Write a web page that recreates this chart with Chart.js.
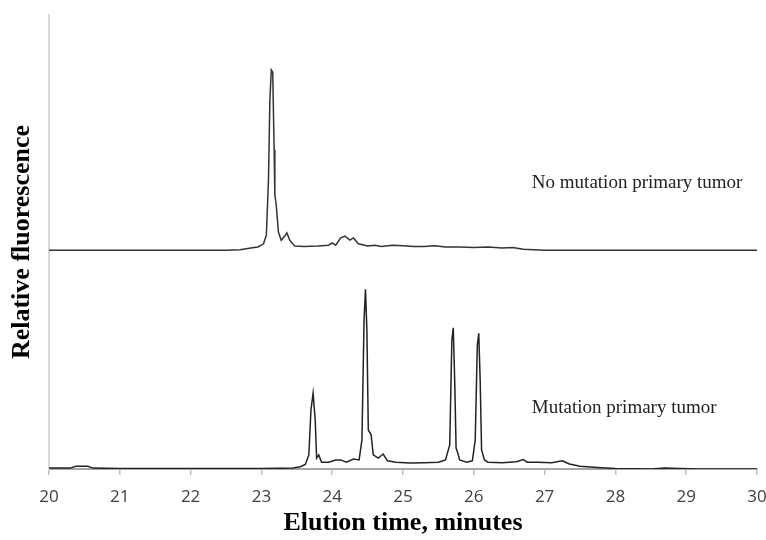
<!DOCTYPE html>
<html>
<head>
<meta charset="utf-8">
<script src="https://cdn.jsdelivr.net/npm/chart.js@4.4.0/dist/chart.umd.min.js"></script>
<style>
  html, body { margin: 0; padding: 0; background: #fff; }
  #wrap { width: 766px; height: 540px; }
</style>
</head>
<body>
<div id="wrap"><canvas id="chromChart"></canvas></div>
<script>
// series names (drawn as in-plot labels)
var seriesNames = ['No mutation primary tumor', 'Mutation primary tumor'];

// x tick values, minutes
var tickMinutes = [20, 21, 22, 23, 24, 25, 26, 27, 28, 29, 30];

// top trace: no mutation (time in minutes / relative fluorescence, offset trace)
var noMutTime = [20.0, 21.0, 22.0, 22.5, 22.7, 22.85, 22.95, 23.03, 23.07, 23.1, 23.12, 23.14, 23.16,
  23.18, 23.19, 23.21, 23.24, 23.28, 23.33, 23.36, 23.4, 23.47, 23.6, 23.8, 23.95, 24.0, 24.05,
  24.12, 24.18, 24.25, 24.3, 24.37, 24.5, 24.6, 24.7, 24.85, 25.0, 25.15, 25.3, 25.45, 25.6,
  25.8, 26.0, 26.2, 26.4, 26.55, 26.7, 27.0, 28.0, 29.0, 30.0];
var noMutSignal = [48.2, 48.2, 48.2, 48.2, 48.3, 48.7, 48.9, 49.6, 51.5, 63.7, 81.3, 87.9, 87.4,
  70.3, 60.4, 58.1, 52.2, 50.4, 51.3, 52.0, 50.4, 49.1, 49.0, 49.1, 49.3, 49.8, 49.3,
  50.9, 51.3, 50.4, 50.9, 49.6, 49.1, 49.3, 49.0, 49.3, 49.2, 49.0, 49.0, 49.2, 48.9,
  48.9, 48.8, 48.9, 48.7, 48.8, 48.4, 48.2, 48.2, 48.2, 48.2];

// bottom trace: mutation
var mutTime = [20.0, 20.3, 20.38, 20.55, 20.62, 21.0, 23.0, 23.45, 23.55, 23.62, 23.67, 23.7, 23.73,
  23.76, 23.78, 23.81, 23.85, 23.95, 24.05, 24.12, 24.2, 24.3, 24.38, 24.42, 24.45, 24.47, 24.49,
  24.51, 24.55, 24.58, 24.65, 24.72, 24.78, 24.9, 25.1, 25.3, 25.5, 25.6, 25.66, 25.69, 25.71,
  25.73, 25.75, 25.77, 25.8, 25.9, 25.98, 26.02, 26.05, 26.07, 26.09, 26.11, 26.15, 26.2, 26.4,
  26.6, 26.7, 26.75, 26.9, 27.1, 27.25, 27.35, 27.5, 27.8, 28.0, 28.5, 28.7, 28.9, 29.2, 30.0];
var mutSignal = [0.2, 0.2, 0.6, 0.6, 0.2, 0.1, 0.1, 0.2, 0.5, 1.0, 3.1, 13.0, 16.7,
  10.8, 2.4, 3.1, 1.5, 1.5, 2.0, 2.0, 1.5, 2.2, 2.0, 6.4, 32.8, 39.6, 30.6,
  8.6, 7.5, 3.1, 2.4, 3.3, 1.8, 1.5, 1.3, 1.4, 1.5, 2.0, 5.3, 28.4, 31.1,
  19.6, 4.6, 3.7, 2.0, 1.5, 1.8, 6.4, 27.3, 29.9, 19.6, 4.2, 2.0, 1.5, 1.4,
  1.6, 2.1, 1.5, 1.5, 1.4, 1.8, 1.1, 0.6, 0.3, 0.1, 0.0, 0.2, 0.1, 0.0, 0.0];

function toPoints(xs, ys) {
  return xs.map(function (x, i) { return { x: x, y: ys[i] }; });
}

// draws each series name inside the plot, at a place given in data units
var seriesLabels = {
  id: 'seriesLabels',
  afterDatasetsDraw: function (chart, args, opts) {
    var ctx = chart.ctx;
    var xs = chart.scales.x, ys = chart.scales.y;
    ctx.save();
    ctx.font = '19px "Liberation Serif", "Times New Roman", serif';
    ctx.fillStyle = '#222';
    ctx.textBaseline = 'alphabetic';
    opts.spots.forEach(function (s, i) {
      ctx.fillText(chart.data.datasets[i].label, xs.getPixelForValue(s.x), ys.getPixelForValue(s.y));
    });
    ctx.restore();
  }
};

var ctx = document.getElementById('chromChart').getContext('2d');
var chart = new Chart(ctx, {
  type: 'line',
  data: {
    datasets: [{
      label: seriesNames[0],
      data: toPoints(noMutTime, noMutSignal),
      borderColor: '#333',
      borderWidth: 1.5,
      pointRadius: 0,
      tension: 0
    }, {
      label: seriesNames[1],
      data: toPoints(mutTime, mutSignal),
      borderColor: '#222',
      borderWidth: 1.5,
      pointRadius: 0,
      tension: 0
    }]
  },
  options: {
    responsive: true,
    maintainAspectRatio: false,
    animation: false,
    layout: { padding: { top: 15, right: 9, left: 0, bottom: 0 } },
    plugins: {
      legend: { display: false },
      tooltip: { enabled: false },
      seriesLabels: { spots: [{ x: 26.82, y: 62.0 }, { x: 26.82, y: 12.3 }] }
    },
    scales: {
      x: {
        type: 'linear',
        min: 20,
        max: 30,
        afterBuildTicks: function (scale) {
          scale.ticks = tickMinutes.map(function (v) { return { value: v }; });
        },
        afterFit: function (scale) {
          scale.height = 71;
          scale.paddingLeft = 0;
          scale.paddingRight = 0;
        },
        grid: { drawOnChartArea: false, drawTicks: true, tickLength: 6, color: '#bfbfbf', lineWidth: 1.5 },
        border: { color: '#a6a6a6', width: 2 },
        ticks: { color: '#404040', padding: 12, font: { family: '"Open Sans", sans-serif', size: 17 } },
        title: {
          display: true,
          text: 'Elution time, minutes',
          color: '#000',
          padding: { top: 0, bottom: 1 },
          font: { family: '"Liberation Serif", "Times New Roman", serif', size: 26, weight: 'bold' }
        }
      },
      y: {
        min: 0,
        max: 100,
        afterFit: function (scale) { scale.width = 49; },
        grid: { display: false },
        border: { color: '#d9d9d9', width: 2 },
        ticks: { display: false },
        title: {
          display: true,
          text: 'Relative fluorescence',
          color: '#000',
          padding: { top: 7, bottom: 0 },
          font: { family: '"Liberation Serif", "Times New Roman", serif', size: 26, weight: 'bold' }
        }
      }
    }
  },
  plugins: [seriesLabels]
});
</script>
</body>
</html>
